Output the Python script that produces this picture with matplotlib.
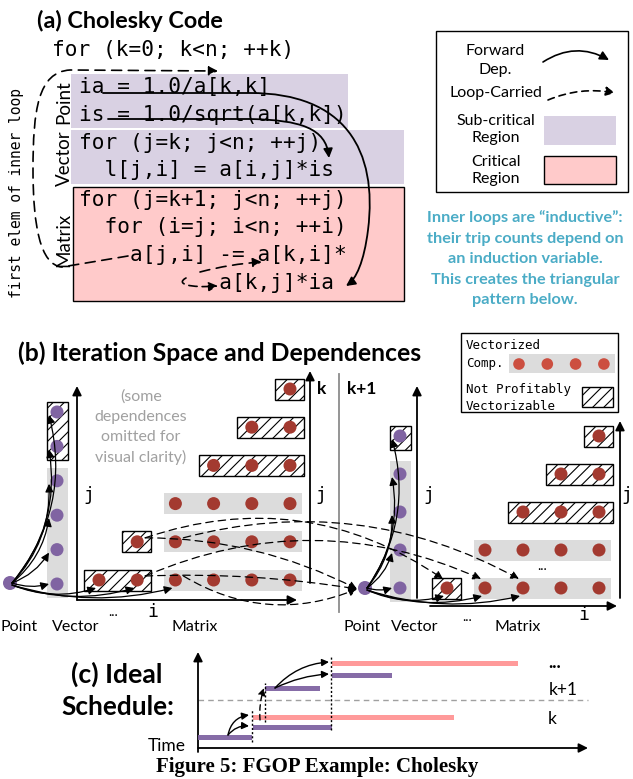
import matplotlib
matplotlib.use('Agg')
import matplotlib.pyplot as plt
from matplotlib.patches import Rectangle, Circle, FancyArrowPatch
from matplotlib.path import Path

plt.rcParams['hatch.linewidth'] = 0.8

SANS = 'Lato'
MONO = 'DejaVu Sans Mono'

# ---------------- data ----------------
code_lines = ["for (k=0; k<n; ++k)",
              "ia = 1.0/a[k,k]",
              "is = 1.0/sqrt(a[k,k])",
              "for (j=k; j<n; ++j)",
              "  l[j,i] = a[i,j]*is",
              "for (j=k+1; j<n; ++j)",
              "  for (i=j; i<n; ++i)",
              "    a[j,i] -= a[k,i]*",
              "           a[k,j]*ia"]
region_labels = ["Point", "Vector", "Matrix"]
info_lines = ["Inner loops are \u201cinductive\u201d:",
              "their trip counts depend on",
              "an induction variable.",
              "This creates the triangular",
              "pattern below."]
omit_lines = ["(some", "dependences", "omitted for", "visual clarity)"]

# vector column: (vectorized dots, hatched dots)
vec_k = (4, 2)
vec_k1 = (4, 1)
# matrix rows: (first column, hatched cells, vectorized cells)
mat_rows_k = [(0, 2, 4), (1, 1, 4), (2, 0, 4), (3, 3, 0), (4, 2, 0), (5, 1, 0)]
mat_rows_k1 = [(0, 1, 4), (1, 0, 4), (2, 3, 0), (3, 2, 0), (4, 1, 0)]
# loop-carried deps: (row, col) in step k  ->  (row, col) in step k+1 ('P' = point)
carried_deps = [((1, 1), (0, 0), -0.25), ((0, 1), (0, 1), -0.22), ((1, 2), (0, 2), -0.2),
                ((0, 2), 'P', 0.25), ((1, 1), 'P', -0.12), ((0, 1), 'P', -0.05)]

# schedule (c): start, end, height above time axis, kind
sched_start = [0, 55, 55, 67, 134, 134]
sched_end = [54, 134, 256, 122, 194, 320]
sched_height = [11, 21, 31, 60, 73, 85]
sched_kind = ['sub', 'sub', 'crit', 'sub', 'sub', 'crit']

# colours
C_SUB = '#d9d1e3'
C_CRIT = '#ffcaca'
C_PURPLE = '#8064a2'
C_RED = '#a33a30'
C_RED_L = '#cc4f40'
C_BAND = '#dcdcdc'
C_BLUE = '#4bacc6'
C_GRAY = '#a0a0a0'

fig = plt.figure(figsize=(6.33, 7.79), dpi=100)
ax = fig.add_axes([0, 0, 1, 1])
ax.set_xlim(0, 633)
ax.set_ylim(779, 0)
ax.axis('off')


def arrow(p0, p1, rad=0.0, ls='-', lw=1.0, ms=9, a=None, path=None, z=5):
    kw = dict(arrowstyle='-|>,head_length=0.6,head_width=0.3', mutation_scale=ms,
              linestyle=ls, lw=lw, color='black', shrinkA=0, shrinkB=0, zorder=z)
    if path is not None:
        p = FancyArrowPatch(path=path, **kw)
    else:
        p = FancyArrowPatch(p0, p1, connectionstyle=f'arc3,rad={rad}', **kw)
    (a or ax).add_patch(p)


def dot(x, y, c, r=6.5):
    ax.add_patch(Circle((x, y), r, fc=c, ec='none', zorder=4))


def hatched(x0, y0, x1, y1):
    ax.add_patch(Rectangle((x0, y0), x1 - x0, y1 - y0, fc='white', ec='black',
                           lw=1, hatch='///', zorder=3))


def band(x0, y0, x1, y1):
    ax.add_patch(Rectangle((x0, y0), x1 - x0, y1 - y0, fc=C_BAND, ec='none', zorder=2))


# ---------------- (a) ----------------
ax.text(37, 21, "(a) Cholesky Code", fontfamily=SANS, fontweight='bold', fontsize=16.8,
        ha='left', va='center')
ax.add_patch(Rectangle((71, 74), 277, 54, fc=C_SUB, ec='none', zorder=1))
ax.add_patch(Rectangle((71, 130), 333, 54, fc=C_SUB, ec='none', zorder=1))
ax.add_patch(Rectangle((73, 187), 331, 114, fc=C_CRIT, ec='black', lw=1, zorder=1))

code_pos = [(52, 50), (79, 87), (79, 115), (79, 143), (79, 170), (79, 200), (79, 227),
            (79, 255), (79, 283)]
for (x, y), s in zip(code_pos, code_lines):
    ax.text(x, y, s, fontfamily=MONO, fontsize=15.2, ha='left', va='center', zorder=6)
for y, s in zip([102, 158, 240], region_labels):
    ax.text(64, y, s, fontfamily=SANS, fontsize=13.5, rotation=90, ha='center',
            va='center', zorder=6)
ax.text(17, 193, "first elem of inner loop", fontfamily=MONO, fontsize=10.5,
        rotation=90, ha='center', va='center')

M, L, C = Path.MOVETO, Path.LINETO, Path.CURVE4
arrow(None, None, lw=1.3, path=Path([(103, 93), (250, 93), (345, 93), (378, 150), (368, 230),
                                     (364, 262), (356, 279), (346, 286)],
                                    [M, L, C, C, C, C, C, C]))
arrow(None, None, lw=1.3, path=Path([(108, 119), (250, 119), (300, 120), (326, 128), (329, 158)],
                                    [M, L, C, C, C]))
arrow(None, None, lw=1.2, ls=(0, (6, 4)),
      path=Path([(128, 256), (62, 267), (40, 265), (33, 225), (33, 170), (33, 110), (38, 72),
                 (70, 70), (218, 71)], [M, L, C, C, C, C, C, C, L]))
arrow((200, 272), (262, 262), rad=-0.05, lw=1.2, ls=(0, (6, 4)))
arrow(None, None, lw=1.2, ls=(0, (5, 3)),
      path=Path([(186, 278), (175, 284), (190, 288), (218, 286)], [M, C, C, C]))

# legend (a)
ax.add_patch(Rectangle((436, 31), 192, 161, fc='white', ec='black', lw=1, zorder=1))
ax.text(495, 51, "Forward", fontfamily=SANS, fontsize=11.5, ha='center', va='center')
ax.text(495, 70, "Dep.", fontfamily=SANS, fontsize=11.5, ha='center', va='center')
arrow((543, 62), (609, 60), rad=-0.3, lw=1.2)
ax.text(496, 93, "Loop-Carried", fontfamily=SANS, fontsize=11.5, ha='center', va='center')
arrow((548, 100), (615, 93), rad=-0.15, lw=1.2, ls=(0, (4, 3)))
ax.text(496, 121, "Sub-critical", fontfamily=SANS, fontsize=11.5, ha='center', va='center')
ax.text(496, 138, "Region", fontfamily=SANS, fontsize=11.5, ha='center', va='center')
ax.add_patch(Rectangle((544, 116), 72, 29, fc=C_SUB, ec='none', zorder=2))
ax.text(496, 162, "Critical", fontfamily=SANS, fontsize=11.5, ha='center', va='center')
ax.text(496, 179, "Region", fontfamily=SANS, fontsize=11.5, ha='center', va='center')
ax.add_patch(Rectangle((544, 156), 72, 28, fc=C_CRIT, ec='black', lw=1, zorder=2))

for i, s in enumerate(info_lines):
    ax.text(525, 218 + i * 20.5, s, fontfamily=SANS, fontweight='bold', fontsize=11.7,
            color=C_BLUE, ha='center', va='center')

# ---------------- (b) ----------------
ax.text(18, 353, "(b) Iteration Space and Dependences", fontfamily=SANS, fontweight='bold',
        fontsize=17.8, ha='left', va='center')
ax.add_patch(Rectangle((461, 333), 157, 79, fc='white', ec='black', lw=1, zorder=1))
ax.text(466, 345, "Vectorized", fontfamily=MONO, fontsize=9, ha='left', va='center')
ax.text(466, 363, "Comp.", fontfamily=MONO, fontsize=9, ha='left', va='center')
band(509, 354, 615, 373)
for i in range(4):
    dot(519 + i * 28.3, 364, C_RED_L, 5.8)
ax.text(466, 389, "Not Profitably", fontfamily=MONO, fontsize=9, ha='left', va='center')
ax.text(466, 406, "Vectorizable", fontfamily=MONO, fontsize=9, ha='left', va='center')
hatched(582, 387, 613, 407)

for i, s in enumerate(omit_lines):
    ax.text(141, 397 + i * 20, s, fontfamily=SANS, fontsize=11.5, color=C_GRAY,
            ha='center', va='center')

ax.plot([339, 339], [374, 612], color='#8c8c8c', lw=1.3)
ax.text(322, 389, "k", fontfamily=SANS, fontweight='bold', fontsize=12.5, ha='center', va='center')
ax.text(362, 389, "k+1", fontfamily=SANS, fontweight='bold', fontsize=12.5, ha='center',
        va='center')


def panel(pt, vx, vy0, vdy, vec, mx0, mdx, my0, mdy, rows, jv, jm, iax, vlabels, ilab,
          dots_lab, jm_lab):
    px, py = pt
    dot(px, py, C_PURPLE, 7)
    # vector column
    nv, nh = vec
    vys = [vy0 - i * vdy for i in range(nv + nh)]
    band(vx - 10.5, vys[nv - 1] - 13, vx + 10.5, vys[0] + 14)
    if nh:
        hatched(vx - 10.5, vys[-1] - 10, vx + 10.5, vys[nv] + 14)
    for y in vys:
        dot(vx, y, C_PURPLE)
    for k, y in enumerate(vys):
        arrow((px + 2, py), (vx - 8, y + (0 if k == 0 else 3)), rad=0.15 + 0.02 * k, lw=0.9, ms=8)
    # matrix
    centers = {}
    for r, (c0, nh_, nv_) in enumerate(rows):
        y = my0 - r * mdy
        xs = [mx0 + (c0 + i) * mdx for i in range(nh_ + nv_)]
        for i, x in enumerate(xs):
            centers[(r, c0 + i)] = (x, y)
        if nh_:
            hatched(xs[0] - 15, y - 10.5, xs[nh_ - 1] + 14, y + 10.5)
        if nv_:
            band(xs[nh_] - 11, y - 10.5, xs[-1] + 12, y + 10.5)
        for x in xs:
            dot(x, y, C_RED)
    r0 = rows[0]
    for i in range(3):
        x, y = centers[(0, r0[0] + i)]
        arrow((px + 2, py + 2), (x - 3, y + 8), rad=0.18 - 0.02 * i, lw=0.9, ms=8)
    # axes
    ap = dict(arrowstyle='-|>,head_length=0.6,head_width=0.3', lw=1.3,
              color='black', mutation_scale=9, shrinkA=0, shrinkB=0)
    ax.annotate('', xy=(jv[0], jv[2]), xytext=(jv[0], jv[1]), arrowprops=ap)
    ax.annotate('', xy=(jm[0], jm[2]), xytext=(jm[0], jm[1]), arrowprops=ap)
    ax.annotate('', xy=(iax[2], iax[1]), xytext=(iax[0], iax[1]), arrowprops=ap)
    ax.text(jv[0] + 12, 495, "j", fontfamily=MONO, fontsize=13, ha='center', va='center')
    ax.text(jm_lab, 495, "j", fontfamily=MONO, fontsize=13, ha='center', va='center')
    ax.text(ilab[0], ilab[1], "i", fontfamily=MONO, fontsize=13, ha='center', va='center')
    for (x, y) in dots_lab:
        ax.text(x, y, "...", fontfamily=SANS, fontsize=10, ha='center', va='center')
    for (x, s) in vlabels:
        ax.text(x, 627, s, fontfamily=SANS, fontsize=11.5, ha='center', va='center')
    return centers


cent_k = panel((10, 583), 57, 584, 34.4, vec_k, 99, 38.2, 580, 38.2, mat_rows_k,
               (77, 600, 386), (310, 583, 371), (77, 600, 297),
               [(19, "Point"), (76, "Vector"), (195, "Matrix")], (153, 612), [(113, 612)], 321)
cent_k1 = panel((365, 588), 400, 588, 38, vec_k1, 447, 38, 588, 38, mat_rows_k1,
                (417, 598, 386), (620, 598, 421), (430, 606, 617),
                [(362, "Point"), (415, "Vector"), (518, "Matrix")], (584, 615),
                [(467, 617), (542, 566)], 627)

for src, dst, rad in carried_deps:
    sx, sy = cent_k[src]
    if dst == 'P':
        tx, ty = 357, 589
    else:
        tx, ty = cent_k1[dst]
        tx, ty = tx - 4, ty - 9
    arrow((sx + 8, sy - 4), (tx, ty), rad=rad, lw=0.9, ls=(0, (6, 4)), ms=8)

# ---------------- (c) ----------------
ax.text(71, 674, "(c) Ideal", fontfamily=SANS, fontweight='bold', fontsize=19.2, ha='left',
        va='center')
ax.text(61, 707, "Schedule:", fontfamily=SANS, fontweight='bold', fontsize=18.8, ha='left',
        va='center')
ax.text(167, 746, "Time", fontfamily=SANS, fontsize=12.5, ha='center', va='center')

ax2 = fig.add_axes([188 / 633, 21 / 779, 410 / 633, 110 / 779])
ax2.set_xlim(-10, 400)
ax2.set_ylim(-10, 100)
ax2.axis('off')
aprops = dict(arrowstyle='-|>,head_length=0.6,head_width=0.3', lw=1.3, color='black',
              mutation_scale=9, shrinkA=0, shrinkB=0)
ax2.annotate('', xy=(0, 96), xytext=(0, -4), arrowprops=aprops)
ax2.annotate('', xy=(390, 0), xytext=(0, 0), arrowprops=aprops)
ax2.plot([0, 390], [48, 48], color='#a0a0a0', lw=1, ls=(0, (4, 3)))
for s, e, h, k in zip(sched_start, sched_end, sched_height, sched_kind):
    ax2.barh(h, e - s, left=s, height=5, color=C_PURPLE if k == 'sub' else '#ff9a9a',
             alpha=0.95 if k == 'sub' else 1.0, zorder=3)
for x, y0, y1 in [(54, 6, 38), (67, 26, 65), (133, 18, 91)]:
    ax2.plot([x, x], [y0, y1], color='black', lw=1, ls=(0, (1.5, 1.5)), zorder=4)
arrow((30, 13), (51, 33), rad=-0.35, lw=1, ms=7, a=ax2)
arrow((30, 13), (51, 22), rad=-0.25, lw=1, ms=7, a=ax2)
arrow((62, 28), (66, 60), rad=-0.1, lw=1, ms=7, ls=(0, (4, 3)), a=ax2)
arrow((77, 60), (131, 86), rad=-0.2, lw=1, ms=7, a=ax2)
arrow((77, 60), (131, 74), rad=-0.1, lw=1, ms=7, a=ax2)
ax.text(555, 662, "...", fontfamily=SANS, fontsize=13, fontweight='bold', ha='center', va='center')
ax.text(563, 690, "k+1", fontfamily=SANS, fontsize=12.5, ha='center', va='center')
ax.text(552, 719, "k", fontfamily=SANS, fontsize=12.5, ha='center', va='center')

ax.text(317, 767, "Figure 5: FGOP Example: Cholesky", fontfamily='Liberation Serif',
        fontweight='bold', fontsize=15, ha='center', va='center')

fig.savefig('out.png', dpi=100)
